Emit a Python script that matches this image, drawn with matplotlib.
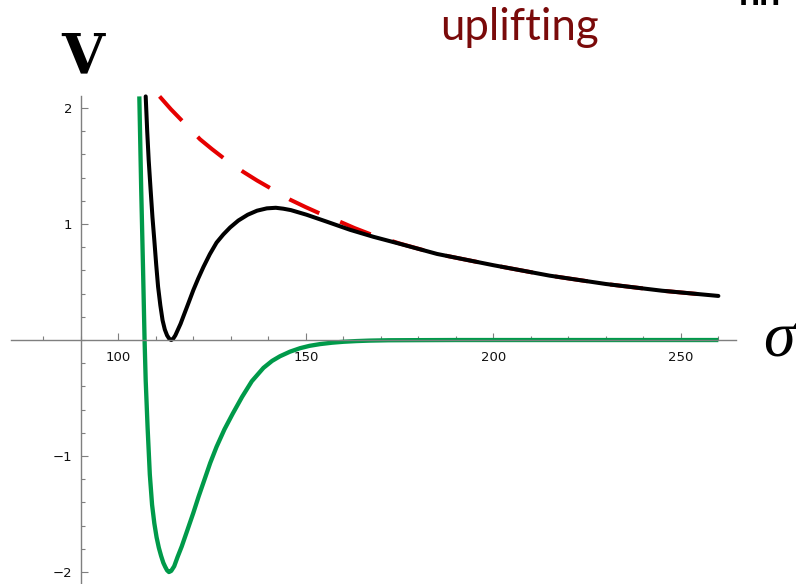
"""KKLT-style potential V(sigma): AdS well, uplift term and uplifted dS minimum.

Values read off the reference picture (V in units of 1e-15).
"""

import numpy as np
import matplotlib.pyplot as plt

# --- data -----------------------------------------------------------------
# AdS potential (green)
ADS_SIGMA = [105.6, 106.1, 106.6, 107.0, 107.3, 107.8, 108.4, 109.0, 109.6,
             110.2, 110.8, 111.4, 112.0, 112.5, 113.0, 113.5, 114.1, 114.9,
             115.8, 116.9, 118.4, 120.0, 121.4, 122.9, 124.5, 126.2, 128.3,
             130.5, 133.0, 135.6, 138.7, 141.0, 143.1, 145.8, 148.5, 151.0,
             153.8, 157.0, 160.0, 163.5, 167.0, 172.0, 180.0, 190.0, 260.0]
ADS_V     = [2.10, 1.30, 0.60, 0.00, -0.35, -0.75, -1.16, -1.42, -1.58,
             -1.70, -1.79, -1.86, -1.92, -1.955, -1.985, -2.00, -1.99, -1.95,
             -1.87, -1.78, -1.64, -1.49, -1.35, -1.21, -1.06, -0.92, -0.77,
             -0.635, -0.49, -0.355, -0.24, -0.18, -0.14, -0.10, -0.07, -0.05,
             -0.035, -0.023, -0.015, -0.009, -0.005, -0.002, -0.001, 0.0, 0.0]

# uplift term (red dashed)
UP_SIGMA = [111.0, 114.0, 117.3, 121.8, 125.0, 128.0, 133.3, 137.0, 140.5,
            145.8, 150.0, 153.8, 159.1, 163.0, 167.0, 175.0, 185.0, 200.0,
            215.0, 230.0, 245.0, 260.0]
UP_V     = [2.10, 1.99, 1.88, 1.73, 1.645, 1.57, 1.45, 1.375, 1.31,
            1.21, 1.145, 1.09, 1.02, 0.965, 0.915, 0.832, 0.742, 0.645,
            0.555, 0.483, 0.425, 0.38]

# uplifted potential (black)
DS_SIGMA = [107.3, 107.7, 108.1, 108.6, 109.1, 109.6, 110.1, 110.6, 111.2,
            111.8, 112.4, 113.0, 113.6, 114.1, 114.6, 115.2, 115.9, 116.6,
            117.3, 118.6, 120.0, 121.3, 122.7, 124.4, 126.2, 128.0, 129.8,
            132.0, 134.5, 137.0, 139.6, 142.0, 144.0, 146.0, 150.2, 155.6,
            161.8, 168.0, 175.0, 185.0, 200.0, 215.0, 230.0, 245.0, 260.0]
DS_V     = [2.10, 1.80, 1.55, 1.30, 1.06, 0.86, 0.65, 0.46, 0.30,
            0.17, 0.09, 0.04, 0.01, 0.00, 0.01, 0.04, 0.09, 0.14,
            0.20, 0.31, 0.43, 0.53, 0.63, 0.74, 0.84, 0.91, 0.97,
            1.03, 1.08, 1.115, 1.135, 1.14, 1.132, 1.12, 1.08, 1.02,
            0.95, 0.89, 0.83, 0.742, 0.645, 0.555, 0.483, 0.425, 0.38]

X_MAJOR = [100, 150, 200, 250]
Y_MAJOR = [-2, -1, 1, 2]

GREEN = "#009a4a"
RED   = "#e60000"
AXIS  = "#7f7f7f"

W, H = 796, 584


def fx(px):
    return px / W


def fy(py):
    return 1 - py / H


def main() -> None:
    fig = plt.figure(figsize=(W / 100, H / 100), dpi=100)
    ax = fig.add_axes([0, 0, 1, 1])
    ax.set_xlim(68.45, 280.7)
    ax.set_ylim(-2.103, 2.931)

    ax.plot(ADS_SIGMA, ADS_V, color=GREEN, lw=3.1, solid_capstyle="butt",
            solid_joinstyle="round")
    ax.plot(UP_SIGMA, UP_V, color=RED, lw=2.9, linestyle=(0, (8.2, 5.6)),
            dash_capstyle="butt")
    ax.plot(DS_SIGMA, DS_V, color="black", lw=2.9, solid_capstyle="round",
            solid_joinstyle="round")

    # Mathematica-like axes crossing at (90, 0)
    for side in ("top", "right"):
        ax.spines[side].set_visible(False)
    ax.spines["left"].set_position(("data", 90))
    ax.spines["bottom"].set_position(("data", 0))
    ax.spines["left"].set_bounds(-2.2, 2.1)
    ax.spines["bottom"].set_bounds(71.5, 264.8)
    for side in ("left", "bottom"):
        ax.spines[side].set_color(AXIS)
        ax.spines[side].set_linewidth(1.0)

    ax.set_xticks(X_MAJOR)
    ax.set_xticks(np.arange(80, 261, 10), minor=True)
    ax.set_yticks(Y_MAJOR)
    ax.set_yticks(np.arange(-2.0, 2.01, 0.2), minor=True)
    ax.set_xticklabels([str(v) for v in X_MAJOR])
    ax.set_yticklabels(["\u2212" + str(-v) if v < 0 else str(v) for v in Y_MAJOR])
    ax.tick_params(which="both", direction="in", color=AXIS, width=0.8,
                   labelsize=9.5, labelcolor="#111111")
    ax.tick_params(which="major", length=5)
    ax.tick_params(which="minor", length=3)
    ax.tick_params(axis="x", pad=8)
    ax.tick_params(axis="y", pad=6)

    # labels around the plot
    fig.text(fx(61), fy(73), "V", fontsize=40, fontweight="bold",
             family="DejaVu Serif", ha="left", va="baseline")
    fig.text(fx(763), fy(356), "\u03c3", fontsize=46, style="italic",
             family="Liberation Serif", ha="left", va="baseline")
    fig.text(fx(440), fy(40), "uplifting", fontsize=31.5, color="#7a0a0a",
             family="Lato", ha="left", va="baseline")
    # bottom of a text line cut off by the top edge
    fig.text(fx(739), fy(5), "nn", fontsize=27, fontweight="bold",
             color="black", family="Lato", ha="left", va="baseline")

    fig.savefig("out.png", dpi=100)
    plt.close(fig)


if __name__ == "__main__":
    main()
